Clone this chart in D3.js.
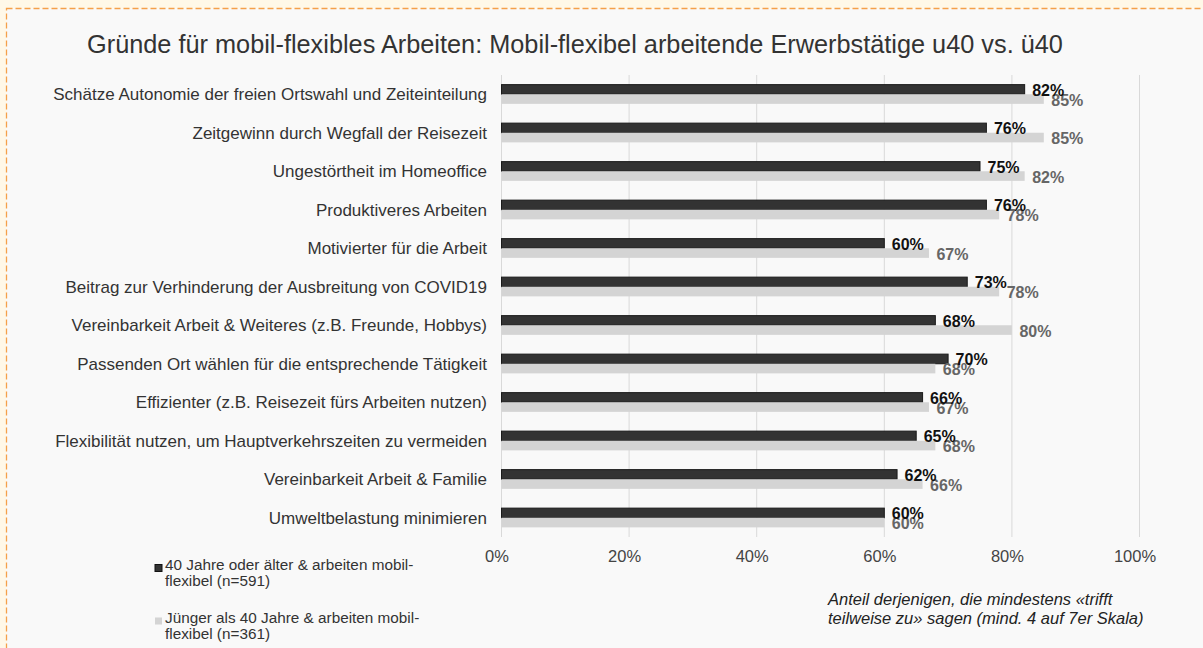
<!DOCTYPE html>
<html>
<head>
<meta charset="utf-8">
<script src="https://cdn.jsdelivr.net/npm/d3@7"></script>
<style>
  body { margin: 0; background: #fff8e8; }
  svg { display: block; font-family: "Liberation Sans", Arial, sans-serif; }
</style>
</head>
<body>
<svg></svg>
<script>
var categories = [
  "Schätze Autonomie der freien Ortswahl und Zeiteinteilung",
  "Zeitgewinn durch Wegfall der Reisezeit",
  "Ungestörtheit im Homeoffice",
  "Produktiveres Arbeiten",
  "Motivierter für die Arbeit",
  "Beitrag zur Verhinderung der Ausbreitung von COVID19",
  "Vereinbarkeit Arbeit & Weiteres (z.B. Freunde, Hobbys)",
  "Passenden Ort wählen für die entsprechende Tätigkeit",
  "Effizienter (z.B. Reisezeit fürs Arbeiten nutzen)",
  "Flexibilität nutzen, um Hauptverkehrszeiten zu vermeiden",
  "Vereinbarkeit Arbeit & Familie ",
  "Umweltbelastung minimieren"
];
var older = [82, 76, 75, 76, 60, 73, 68, 70, 66, 65, 62, 60];
var younger = [85, 85, 82, 78, 67, 78, 80, 68, 67, 68, 66, 60];
var ticks = [0, 20, 40, 60, 80, 100];
var seriesNames = [
  ["40 Jahre oder älter & arbeiten mobil-", "flexibel (n=591)"],
  ["Jünger als 40 Jahre & arbeiten mobil-", "flexibel (n=361)"]
];
var title = "Gründe für mobil-flexibles Arbeiten: Mobil-flexibel arbeitende Erwerbstätige u40 vs. ü40";
var note = ["Anteil derjenigen, die mindestens «trifft", "teilweise zu» sagen (mind. 4 auf 7er Skala)"];

var width = 1203;
var height = 648;

var svg = d3.select("svg")
              .attr("width", width)
              .attr("height", height);

// frame
svg.append("rect")
    .attr("x", 6.5).attr("y", 8.5)
    .attr("width", width + 20).attr("height", height + 20)
    .attr("fill", "#f9f9f9")
    .attr("stroke", "#f5a04a")
    .attr("stroke-width", 1.3)
    .attr("stroke-dasharray", "6,3");

var plotLeft = 501, plotRight = 1139, plotTop = 75, plotBottom = 537;

var x = d3.scaleLinear().domain([0, 100]).range([plotLeft, plotRight]);
var y = d3.scaleBand().domain(d3.range(categories.length)).range([plotTop, plotBottom])
          .paddingInner(0.5).paddingOuter(0.25);
var sub = d3.scaleBand().domain([0, 1]).range([0, y.bandwidth()]);

svg.append("text")
    .attr("x", 575).attr("y", 53)
    .attr("text-anchor", "middle")
    .attr("font-size", 25.3)
    .attr("fill", "#333")
    .text(title);

// grid
svg.selectAll(".grid")
    .data(ticks)
    .enter()
    .append("line")
      .attr("x1", d => x(d) + 0.5).attr("x2", d => x(d) + 0.5)
      .attr("y1", plotTop).attr("y2", plotBottom)
      .attr("stroke", "#d9d9d9");

svg.selectAll(".tick")
    .data(ticks)
    .enter()
    .append("text")
      .attr("x", d => x(d) - 4)
      .attr("y", 562)
      .attr("text-anchor", "middle")
      .attr("font-size", 16.5)
      .attr("fill", "#444")
      .text(d => d + "%");

// category labels
svg.selectAll(".cat")
    .data(categories)
    .enter()
    .append("text")
      .attr("x", 487)
      .attr("y", (d, i) => y(i) + y.bandwidth() / 2 + 6)
      .attr("text-anchor", "end")
      .attr("font-size", 17)
      .attr("fill", "#333")
      .text(d => d);

var series = [
  { values: older, fill: "#333333", stroke: "#1a1a1a", label: "#111" },
  { values: younger, fill: "#d4d4d4", stroke: "none", label: "#666" }
];

series.forEach(function (s, k) {
  svg.selectAll(".bar" + k)
      .data(s.values)
      .enter()
      .append("rect")
        .attr("x", x(0) + 0.5)
        .attr("y", (d, i) => y(i) + sub(k))
        .attr("width", d => x(d) - x(0))
        .attr("height", sub.bandwidth())
        .attr("fill", s.fill)
        .attr("stroke", s.stroke)
        .attr("stroke-width", 1);
});

series.slice().reverse().forEach(function (s, r) {
  var k = 1 - r;
  svg.selectAll(".lbl" + k)
      .data(s.values)
      .enter()
      .append("text")
        .attr("x", d => x(d) + 8)
        .attr("y", (d, i) => y(i) + sub(k) + sub.bandwidth() / 2 + 6.5)
        .attr("font-size", 16)
        .attr("font-weight", "bold")
        .attr("fill", s.label)
        .text(d => d + "%");
});

// legend
var legend = svg.selectAll(".legend")
    .data(seriesNames)
    .enter()
    .append("g")
      .attr("transform", (d, i) => `translate(155,${562 + i * 53})`);

legend.append("rect")
    .attr("y", 2.5)
    .attr("width", 7).attr("height", 7)
    .attr("fill", (d, i) => series[i].fill)
    .attr("stroke", (d, i) => i === 0 ? "#111" : "none");

legend.selectAll("text")
    .data(d => d)
    .enter()
    .append("text")
      .attr("x", 10)
      .attr("y", (d, j) => 8 + j * 16)
      .attr("font-size", 15.3)
      .attr("fill", "#333")
      .text(d => d);

svg.selectAll(".note")
    .data(note)
    .enter()
    .append("text")
      .attr("x", 828)
      .attr("y", (d, i) => 605 + i * 19)
      .attr("font-size", 16.5)
      .attr("font-style", "italic")
      .attr("fill", "#222")
      .text(d => d);
</script>
</body>
</html>
